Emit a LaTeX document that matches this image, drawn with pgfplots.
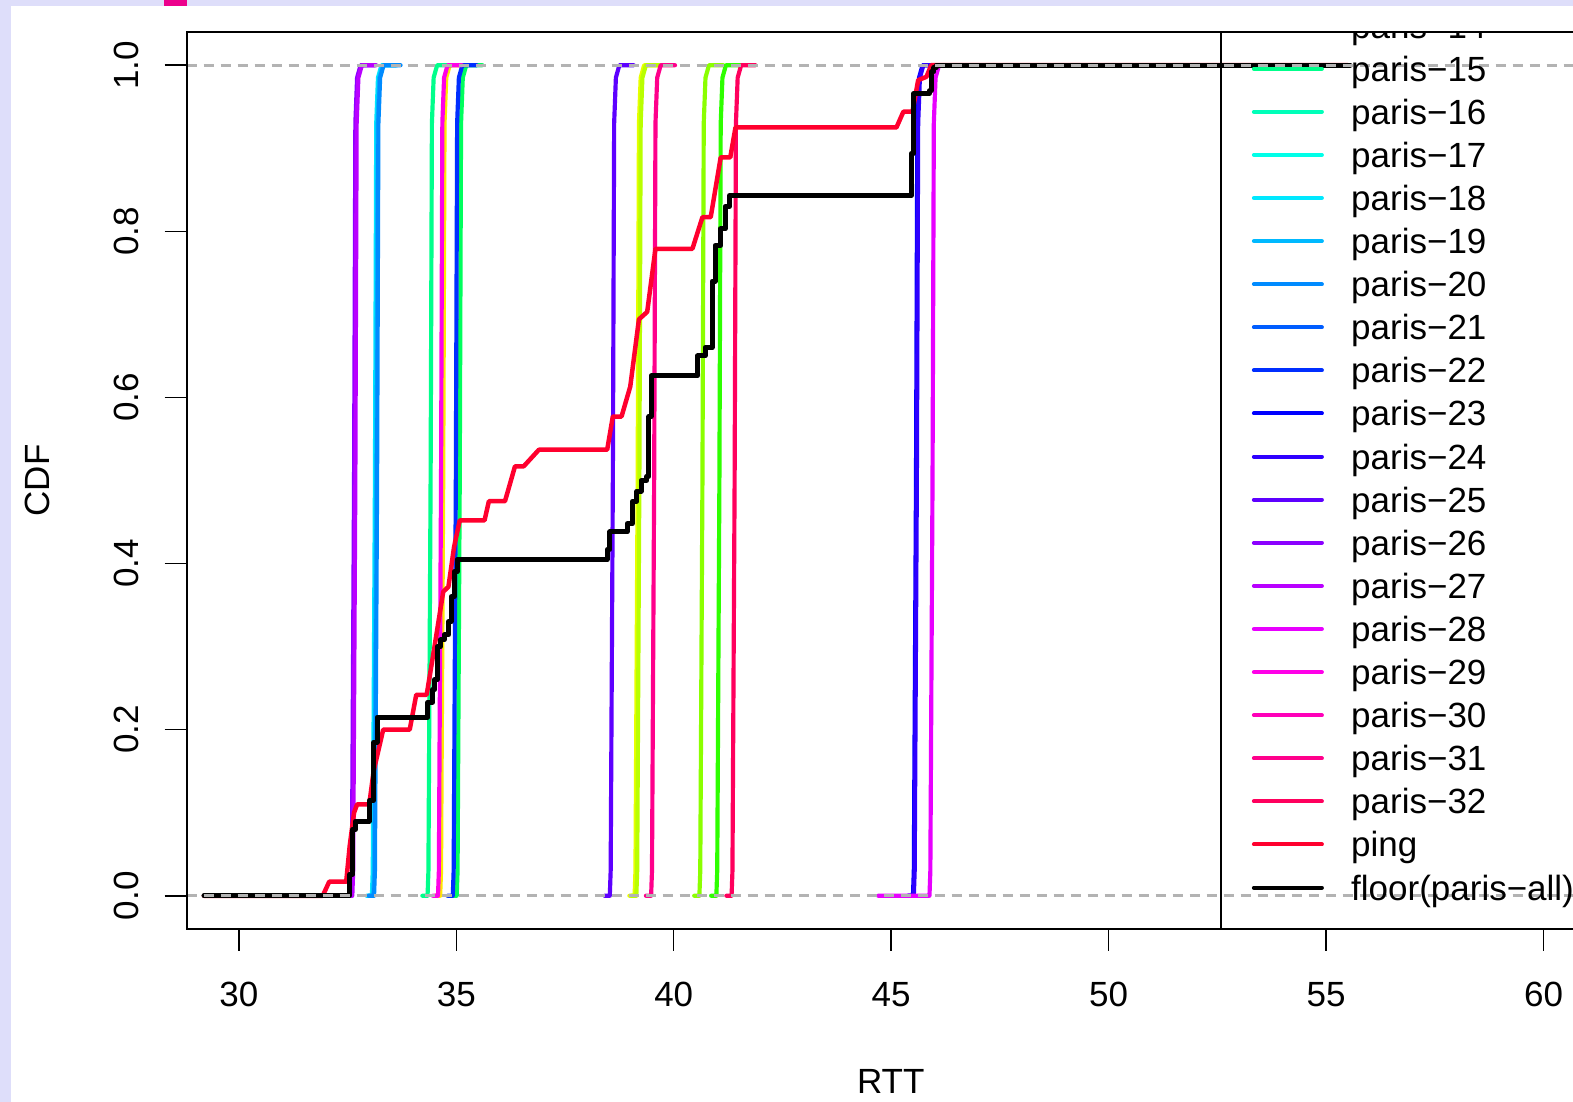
\documentclass[border=0pt]{standalone}
\usepackage{fontspec}
\setmainfont{Liberation Sans}
\usepackage{pgfplots}
\pgfplotsset{compat=1.18}
\definecolor{bglav}{RGB}{222,222,250}
\definecolor{gray70}{HTML}{B3B3B3}
\definecolor{cpa6}{HTML}{FFE800}
\definecolor{cpa7}{HTML}{E8FF00}
\definecolor{cpa8}{HTML}{B9FF00}
\definecolor{cpa9}{HTML}{8BFF00}
\definecolor{cpa11}{HTML}{2EFF00}
\definecolor{cpa14}{HTML}{00FF5D}
\definecolor{cpa15}{HTML}{00FF8B}
\definecolor{cpa16}{HTML}{00FFB9}
\definecolor{cpa17}{HTML}{00FFE8}
\definecolor{cpa18}{HTML}{00E8FF}
\definecolor{cpa19}{HTML}{00B9FF}
\definecolor{cpa20}{HTML}{008BFF}
\definecolor{cpa21}{HTML}{005DFF}
\definecolor{cpa22}{HTML}{002EFF}
\definecolor{cpa23}{HTML}{0000FF}
\definecolor{cpa24}{HTML}{2E00FF}
\definecolor{cpa25}{HTML}{5D00FF}
\definecolor{cpa26}{HTML}{8B00FF}
\definecolor{cpa27}{HTML}{B900FF}
\definecolor{cpa28}{HTML}{E800FF}
\definecolor{cpa29}{HTML}{FF00E8}
\definecolor{cpa30}{HTML}{FF00B9}
\definecolor{cpa31}{HTML}{FF008B}
\definecolor{cpa32}{HTML}{FF005D}
\definecolor{cping}{HTML}{FF002E}
\begin{document}
\begin{tikzpicture}
\useasboundingbox (-55.98pt,-51.9pt) rectangle (415.92pt,278.7pt);
\clip (-55.98pt,-51.9pt) rectangle (415.92pt,278.7pt);
\fill[bglav] (-55.98pt,-51.9pt) rectangle (415.92pt,278.7pt);
\fill[white] (-52.68pt,-51.9pt) rectangle (415.92pt,276.9pt);
\fill[magenta] (-6.63pt,276.9pt) rectangle (0pt,278.7pt);
\begin{scope}
\clip (0pt,0pt) rectangle (422.5pt,269.1pt);
\begin{axis}[
  at={(0pt,0pt)}, anchor=south west,
  width=422.5pt, height=269.1pt, scale only axis,
  xmin=28.8, xmax=61.18, ymin=-0.04, ymax=1.04,
  hide axis, clip=true,
  every axis plot/.append style={line cap=round, line join=round},
  legend image code/.code={\draw[#1] (0pt,0pt) -- (20.4pt,0pt);},
  legend cell align=left,
  legend style={at={(axis cs:52.58,-0.04)}, anchor=south west, draw=black, line width=0.6pt, fill=none,
    inner xsep=9.3pt, inner ysep=5.95pt, outer sep=0pt, row sep=0pt, column sep=8.2pt,
    font=\fontsize{10.5}{12}\selectfont,
    nodes={inner sep=0pt, text height=10.2pt, text depth=2.73pt}},
]
% paris series (ECDFs)
\addplot[forget plot, cpa6, line width=1.25pt] coordinates {(34.51,0)(34.63,0)(34.65,0.03)(34.70,0.5)(34.73,0.93)(34.77,0.985)(34.85,1)(35.18,1)};
\addplot[forget plot, cpa7, line width=1.25pt] coordinates {(38.98,0)(39.10,0)(39.12,0.03)(39.17,0.5)(39.20,0.93)(39.24,0.985)(39.32,1)(39.65,1)};
\addplot[forget plot, cpa8, line width=1.25pt] coordinates {(39.02,0)(39.14,0)(39.16,0.03)(39.21,0.5)(39.24,0.93)(39.28,0.985)(39.36,1)(39.69,1)};
\addplot[forget plot, cpa9, line width=1.25pt] coordinates {(40.47,0)(40.59,0)(40.61,0.03)(40.66,0.5)(40.69,0.93)(40.73,0.985)(40.81,1)(41.14,1)};
\addplot[forget plot, cpa11, line width=1.25pt] coordinates {(40.86,0)(40.98,0)(41.00,0.03)(41.05,0.5)(41.08,0.93)(41.12,0.985)(41.20,1)(41.53,1)};
\addplot[forget plot, cpa14, line width=1.25pt] coordinates {(34.89,0)(35.01,0)(35.03,0.03)(35.08,0.5)(35.11,0.93)(35.15,0.985)(35.23,1)(35.60,1)};
\addplot[forget plot, cpa15, line width=1.25pt] coordinates {(34.22,0)(34.34,0)(34.36,0.03)(34.41,0.5)(34.44,0.93)(34.48,0.985)(34.56,1)(34.89,1)};
\addplot[forget plot, cpa18, line width=1.25pt] coordinates {(32.94,0)(33.06,0)(33.08,0.03)(33.13,0.5)(33.16,0.93)(33.20,0.985)(33.28,1)(33.61,1)};
\addplot[forget plot, cpa19, line width=1.25pt] coordinates {(32.97,0)(33.09,0)(33.11,0.03)(33.16,0.5)(33.19,0.93)(33.23,0.985)(33.31,1)(33.64,1)};
\addplot[forget plot, cpa20, line width=1.25pt] coordinates {(32.99,0)(33.11,0)(33.13,0.03)(33.18,0.5)(33.21,0.93)(33.25,0.985)(33.33,1)(33.72,1)};
\addplot[forget plot, cpa22, line width=1.25pt] coordinates {(34.80,0)(34.92,0)(34.94,0.03)(34.99,0.5)(35.02,0.93)(35.06,0.985)(35.14,1)(35.47,1)};
\addplot[forget plot, cpa23, line width=1.25pt] coordinates {(45.38,0)(45.50,0)(45.52,0.03)(45.57,0.5)(45.60,0.93)(45.64,0.985)(45.72,1)(46.05,1)};
\addplot[forget plot, cpa24, line width=1.25pt] coordinates {(45.40,0)(45.52,0)(45.54,0.03)(45.59,0.5)(45.62,0.93)(45.66,0.985)(45.74,1)(46.07,1)};
\addplot[forget plot, cpa25, line width=1.25pt] coordinates {(38.41,0)(38.53,0)(38.55,0.03)(38.60,0.5)(38.63,0.93)(38.67,0.985)(38.75,1)(39.08,1)};
\addplot[forget plot, cpa26, line width=1.25pt] coordinates {(32.46,0)(32.58,0)(32.60,0.03)(32.65,0.5)(32.68,0.93)(32.72,0.985)(32.80,1)(33.13,1)};
\addplot[forget plot, cpa27, line width=1.25pt] coordinates {(32.49,0)(32.61,0)(32.63,0.03)(32.68,0.5)(32.71,0.93)(32.75,0.985)(32.83,1)(33.16,1)};
\addplot[forget plot, cpa28, line width=1.25pt] coordinates {(44.70,0)(45.88,0)(45.90,0.03)(45.95,0.5)(45.98,0.93)(46.02,0.985)(46.10,1)(46.43,1)};
\addplot[forget plot, cpa29, line width=1.25pt] coordinates {(34.46,0)(34.58,0)(34.60,0.03)(34.65,0.5)(34.68,0.93)(34.72,0.985)(34.80,1)(35.13,1)};
\addplot[forget plot, cpa31, line width=1.25pt] coordinates {(39.36,0)(39.48,0)(39.50,0.03)(39.55,0.5)(39.58,0.93)(39.62,0.985)(39.70,1)(40.03,1)};
\addplot[forget plot, cpa32, line width=1.25pt] coordinates {(41.21,0)(41.33,0)(41.35,0.03)(41.40,0.5)(41.43,0.93)(41.47,0.985)(41.55,1)(41.88,1)};
% ping
\addplot[forget plot, cping, line width=1.35pt] coordinates {(29.2,0)(31.93,0)(32.08,0.017)(32.47,0.017)(32.55,0.06)(32.65,0.10)(32.72,0.11)(33.0,0.11)(33.1,0.15)(33.32,0.20)(33.93,0.20)(34.08,0.242)(34.32,0.242)(34.5,0.30)(34.7,0.366)(34.82,0.372)(34.95,0.42)(35.08,0.452)(35.65,0.452)(35.75,0.475)(36.12,0.475)(36.35,0.517)(36.55,0.517)(36.9,0.537)(38.47,0.537)(38.6,0.577)(38.8,0.577)(39.0,0.613)(39.2,0.694)(39.39,0.703)(39.58,0.779)(40.43,0.779)(40.66,0.817)(40.85,0.817)(41.08,0.889)(41.3,0.889)(41.42,0.925)(45.12,0.925)(45.28,0.944)(45.49,0.944)(45.62,0.982)(45.81,0.986)(45.92,1)(55.5,1)};
% floor(paris-all)
\addplot[forget plot, black, line width=1.5pt] coordinates {(29.2,0)(32.55,0)(32.55,0.026)(32.62,0.026)(32.62,0.08)(32.68,0.08)(32.68,0.09)(33.0,0.09)(33.0,0.115)(33.1,0.115)(33.1,0.185)(33.18,0.185)(33.18,0.215)(34.35,0.215)(34.35,0.233)(34.45,0.233)(34.45,0.248)(34.5,0.248)(34.5,0.26)(34.56,0.26)(34.56,0.30)(34.64,0.30)(34.64,0.308)(34.72,0.308)(34.72,0.314)(34.82,0.314)(34.82,0.33)(34.88,0.33)(34.88,0.36)(34.95,0.36)(34.95,0.39)(35.02,0.39)(35.02,0.405)(38.47,0.405)(38.47,0.417)(38.53,0.417)(38.53,0.438)(38.93,0.438)(38.93,0.448)(39.05,0.448)(39.05,0.475)(39.15,0.475)(39.15,0.487)(39.25,0.487)(39.25,0.50)(39.38,0.50)(39.38,0.505)(39.43,0.505)(39.43,0.577)(39.48,0.577)(39.48,0.626)(40.55,0.626)(40.55,0.65)(40.72,0.65)(40.72,0.66)(40.88,0.66)(40.88,0.74)(40.95,0.74)(40.95,0.783)(41.08,0.783)(41.08,0.803)(41.18,0.803)(41.18,0.83)(41.28,0.83)(41.28,0.843)(45.46,0.843)(45.46,0.894)(45.52,0.894)(45.52,0.966)(45.88,0.966)(45.88,0.969)(45.92,0.969)(45.92,0.992)(45.98,0.992)(45.98,0.997)(46.03,0.997)(46.03,1)(55.55,1)};
% reference lines at 0 and 1
\addplot[forget plot, gray70, line width=1pt, dash pattern=on 3pt off 2.1pt, line cap=butt] coordinates {(28.8,0)(61.18,0)};
\addplot[forget plot, gray70, line width=1pt, dash pattern=on 3pt off 2.1pt, line cap=butt] coordinates {(28.8,1)(61.18,1)};
% legend
\addlegendimage{cpa14, line width=1.2pt}\addlegendentry{paris−14}
\addlegendimage{cpa15, line width=1.2pt}\addlegendentry{paris−15}
\addlegendimage{cpa16, line width=1.2pt}\addlegendentry{paris−16}
\addlegendimage{cpa17, line width=1.2pt}\addlegendentry{paris−17}
\addlegendimage{cpa18, line width=1.2pt}\addlegendentry{paris−18}
\addlegendimage{cpa19, line width=1.2pt}\addlegendentry{paris−19}
\addlegendimage{cpa20, line width=1.2pt}\addlegendentry{paris−20}
\addlegendimage{cpa21, line width=1.2pt}\addlegendentry{paris−21}
\addlegendimage{cpa22, line width=1.2pt}\addlegendentry{paris−22}
\addlegendimage{cpa23, line width=1.2pt}\addlegendentry{paris−23}
\addlegendimage{cpa24, line width=1.2pt}\addlegendentry{paris−24}
\addlegendimage{cpa25, line width=1.2pt}\addlegendentry{paris−25}
\addlegendimage{cpa26, line width=1.2pt}\addlegendentry{paris−26}
\addlegendimage{cpa27, line width=1.2pt}\addlegendentry{paris−27}
\addlegendimage{cpa28, line width=1.2pt}\addlegendentry{paris−28}
\addlegendimage{cpa29, line width=1.2pt}\addlegendentry{paris−29}
\addlegendimage{cpa30, line width=1.2pt}\addlegendentry{paris−30}
\addlegendimage{cpa31, line width=1.2pt}\addlegendentry{paris−31}
\addlegendimage{cpa32, line width=1.2pt}\addlegendentry{paris−32}
\addlegendimage{cping, line width=1.2pt}\addlegendentry{ping}
\addlegendimage{black, line width=1.2pt}\addlegendentry{floor(paris−all)}
\end{axis}
\end{scope}
\begin{axis}[
  at={(0pt,0pt)}, anchor=south west,
  width=422.5pt, height=269.1pt, scale only axis,
  xmin=28.8, xmax=61.18, ymin=-0.04, ymax=1.04,
  xtick={30,35,40,45,50,55,60},
  ytick={0,0.2,0.4,0.6,0.8,1},
  tick align=outside, tick pos=left,
  major tick length=6.6pt,
  every tick/.style={black, line width=0.45pt},
  axis line style={black, line width=0.6pt},
  /pgf/number format/assume math mode=true,
  yticklabel style={/pgf/number format/fixed, /pgf/number format/fixed zerofill, /pgf/number format/precision=1, rotate=90, anchor=south, inner sep=0pt},
  xticklabel style={anchor=north, inner sep=0pt},
  xticklabel shift=9.15pt, yticklabel shift=7.5pt,
  tick label style={font=\fontsize{10.5}{12}\selectfont},
  xlabel={RTT}, ylabel={CDF},
  label style={font=\fontsize{10.5}{12}\selectfont, inner sep=0pt},
  xlabel style={at={(axis description cs:0.5,-0.1699)}, anchor=center},
  ylabel style={at={(axis description cs:-0.10615,0.5)}, anchor=center},
]
\end{axis}
\end{tikzpicture}
\end{document}
